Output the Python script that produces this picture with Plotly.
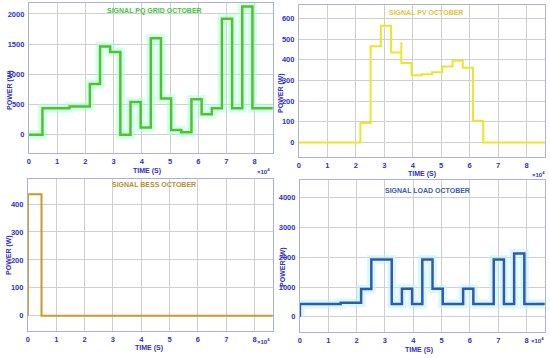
import plotly.graph_objects as go

# ---- data (time in seconds, power in W) ----
t_breaks = [0, 4800, 14400, 21600, 25200, 28800, 32400, 36000, 39600, 43200,
            46800, 50400, 54000, 57600, 61200, 64800, 68400, 72000, 75600, 79200, 86400]

grid_vals = [0, 440, 470, 840, 1460, 1370, 0, 545, 120, 1600,
             600, 80, 45, 590, 340, 440, 1920, 440, 2125, 440]

pv_t = [0, 21600, 25200, 28800, 32400, 36000, 36000, 39600, 43200, 46800,
        50400, 54000, 57600, 61200, 64800, 68400, 86400]
pv_vals = [0, 95, 465, 565, 435, 485, 385, 325, 330, 340,
           368, 395, 362, 105, 0, 0, 0]

bess_t = [0, 0, 4800, 86400]
bess_vals = [0, 435, 0, 0]

load_t = [0] + t_breaks
load_vals = [0, 432, 435, 470, 935, 1925, 1925, 435, 940, 435, 1925,
             940, 435, 435, 940, 435, 435, 1925, 435, 2125, 435, 435]

x_tickvals = [0, 10000, 20000, 30000, 40000, 50000, 60000, 70000, 80000]
x_ticktext = ["0", "1", "2", "3", "4", "5", "6", "7", "8"]

titles = ["SIGNAL PQ GRID OCTOBER", "SIGNAL PV OCTOBER", "SIGNAL BESS OCTOBER", "SIGNAL LOAD OCTOBER"]


def steps(tb, vals):
    xs = list(tb[:len(vals)])
    ys = list(vals)
    if len(tb) > len(vals):
        xs.append(tb[-1])
        ys.append(vals[-1])
    return xs, ys


FONT = "Liberation Sans, Arial"
BLUE = "#3030c8"

fig = go.Figure()

gx, gy = steps(t_breaks, grid_vals)
fig.add_trace(go.Scatter(x=gx, y=gy, mode="lines", line=dict(shape="hv", width=9, color="rgba(175,255,220,0.5)"),
                         xaxis="x", yaxis="y", hoverinfo="skip", showlegend=False))
fig.add_trace(go.Scatter(x=gx, y=gy, mode="lines", line=dict(shape="hv", width=2.5, color="#4cc42a"),
                         xaxis="x", yaxis="y", showlegend=False))

fig.add_trace(go.Scatter(x=pv_t, y=pv_vals, mode="lines", line=dict(shape="hv", width=2, color="#ece62a"),
                         xaxis="x2", yaxis="y2", showlegend=False))

fig.add_trace(go.Scatter(x=bess_t, y=bess_vals, mode="lines", line=dict(shape="hv", width=2, color="#c99a26"),
                         xaxis="x3", yaxis="y3", showlegend=False))

fig.add_trace(go.Scatter(x=load_t, y=load_vals, mode="lines", line=dict(shape="hv", width=9, color="rgba(190,242,255,0.55)"),
                         xaxis="x4", yaxis="y4", hoverinfo="skip", showlegend=False))
fig.add_trace(go.Scatter(x=load_t, y=load_vals, mode="lines", line=dict(shape="hv", width=2.5, color="#2f5aae"),
                         xaxis="x4", yaxis="y4", showlegend=False))

W, H = 550, 358
boxes = [  # (x0, x1, ytop, ybottom) in pixels
    (27, 272, 2.5, 153),
    (298, 545, 5, 157),
    (26, 272, 179, 331),
    (299, 545, 180, 332),
]
yranges = [[-300, 2190], [-70, 665], [-55, 490], [-510, 4600]]
ydticks = [500, 100, 100, 1000]
title_colors = ["#3ec63a", "#e6c238", "#b89030", "#3a5cb0"]

axis_common = dict(showgrid=True, gridcolor="#cfcfcf", gridwidth=1, zeroline=False,
                   showline=True, linecolor="#a9b2dc", linewidth=1, mirror=True,
                   ticks="", tickfont=dict(family=FONT, size=7.5, color=BLUE, weight="bold"))

layout = dict(width=W, height=H, margin=dict(l=0, r=0, t=0, b=0),
              paper_bgcolor="white", plot_bgcolor="white", showlegend=False)

annotations = []
for i, (x0, x1, yt, yb) in enumerate(boxes):
    sfx = "" if i == 0 else str(i + 1)
    layout["xaxis" + sfx] = dict(axis_common, domain=[x0 / W, x1 / W], range=[0, 86500],
                                 tickvals=x_tickvals, ticktext=x_ticktext,
                                 anchor="y" + sfx, ticklabelstandoff=1)
    layout["yaxis" + sfx] = dict(axis_common, domain=[1 - yb / H, 1 - yt / H], range=yranges[i],
                                 dtick=ydticks[i], tick0=0, anchor="x" + sfx, ticklabelstandoff=2)
    # title inside plot
    annotations.append(dict(text=titles[i], x=[153, 426, 153, 427][i] / W, y=1 - [11, 12.5, 184.5, 190.5][i] / H,
                            xref="paper", yref="paper", showarrow=False, xanchor="center", yanchor="middle",
                            font=dict(family=FONT, size=7, color=title_colors[i], weight="bold")))
    # x-axis title
    annotations.append(dict(text="TIME (S)", x=[146, 422, 148, 419][i] / W, y=1 - [170.5, 174, 348, 349.5][i] / H,
                            xref="paper", yref="paper", showarrow=False, xanchor="center", yanchor="middle",
                            font=dict(family=FONT, size=7, color=BLUE, weight="bold")))
    # exponent
    annotations.append(dict(text="×10<sup>4</sup>", x=[262, 538, 262, 537][i] / W, y=1 - [171, 173.5, 340.5, 340][i] / H,
                            xref="paper", yref="paper", showarrow=False, xanchor="center", yanchor="middle",
                            font=dict(family=FONT, size=6, color=BLUE, weight="bold")))
    # y-axis title
    annotations.append(dict(text="POWER (W)", x=[8, 280, 7, 282][i] / W, y=1 - [90, 93, 255, 267][i] / H,
                            xref="paper", yref="paper", showarrow=False, xanchor="center", yanchor="middle",
                            textangle=-90,
                            font=dict(family=FONT, size=7, color=BLUE, weight="bold")))

layout["annotations"] = annotations
fig.update_layout(**layout)
fig.write_html("out.html", config={"displayModeBar": False},
               post_script="document.body.style.margin='0';document.body.style.padding='0';")
